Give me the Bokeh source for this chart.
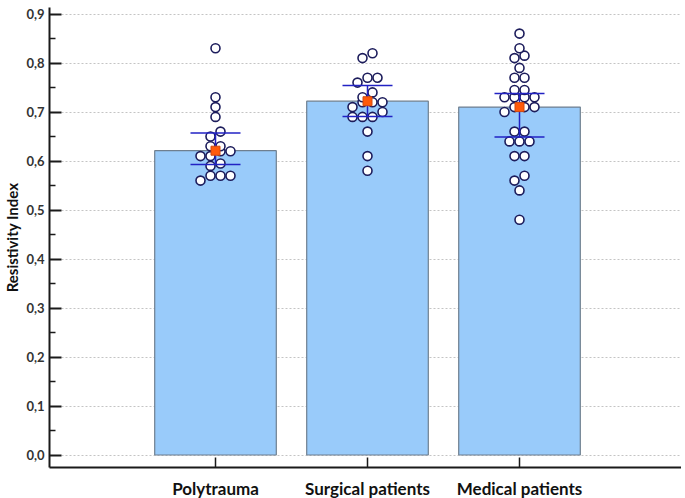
from bokeh.plotting import figure
from bokeh.models import Range1d, FixedTicker, CustomJSTickFormatter, ColumnDataSource
from bokeh.embed import file_html
from bokeh.resources import INLINE

# ---- data ----
groups = ["Polytrauma", "Surgical patients", "Medical patients"]
bar_values = [0.621, 0.722, 0.710]
ci_low = [0.593, 0.691, 0.649]
ci_high = [0.657, 0.754, 0.738]
poly_vals = [0.83, 0.73, 0.71, 0.69, 0.66, 0.65, 0.63, 0.63, 0.62, 0.62, 0.61, 0.61,
             0.595, 0.59, 0.57, 0.57, 0.57, 0.56]
surg_vals = [0.82, 0.81, 0.77, 0.77, 0.76, 0.74, 0.73, 0.72, 0.72, 0.72, 0.71,
             0.70, 0.69, 0.69, 0.69, 0.66, 0.61, 0.58]
med_vals = [0.86, 0.83, 0.815, 0.81, 0.79, 0.77, 0.77, 0.745, 0.745, 0.73, 0.73,
            0.73, 0.73, 0.71, 0.71, 0.71, 0.70, 0.66, 0.66, 0.64, 0.64, 0.64,
            0.61, 0.61, 0.57, 0.56, 0.54, 0.48]
y_ticks = [0.0, 0.1, 0.2, 0.3, 0.4, 0.5, 0.6, 0.7, 0.8, 0.9]
y_minor = [0.05, 0.15, 0.25, 0.35, 0.45, 0.55, 0.65, 0.75, 0.85]

# ---- layout ----
FW, FH = 632, 460
PX_X = 152.0   # px per category unit
PX_Y = 490.0   # px per y unit
x0 = -166.0 / PX_X
x1 = x0 + FW / PX_X
y0 = -12.5 / PX_Y
y1 = y0 + FH / PX_Y

p = figure(frame_width=FW, frame_height=FH, output_backend="svg", toolbar_location=None,
           x_range=Range1d(x0, x1), y_range=Range1d(y0, y1),
           min_border_left=0, min_border_right=0, min_border_top=7, min_border_bottom=0)
p.outline_line_color = None
p.background_fill_color = "white"
p.xgrid.grid_line_color = None
p.ygrid.grid_line_color = "#c4c4c4"
p.ygrid.grid_line_dash = "2 2"
p.ygrid.grid_line_width = 1

xs = list(range(len(groups)))
src = ColumnDataSource(dict(x=xs, top=bar_values, lo=ci_low, hi=ci_high))
p.vbar(x="x", top="top", bottom=0, width=0.8, source=src,
       fill_color="#99CBFA", line_color="#6f7f8f", line_width=1.2)


def swarm(vals, center, d=10.0, tol=0.012):
    """Group close values into rows, spread each row symmetrically."""
    srt = sorted(vals)
    rows, cur = [], [srt[0]]
    for v in srt[1:]:
        if v - cur[0] <= tol:
            cur.append(v)
        else:
            rows.append(cur)
            cur = [v]
    rows.append(cur)
    ox, oy = [], []
    for row in rows:
        n = len(row)
        for i, v in enumerate(row):
            ox.append(center + (i - (n - 1) / 2) * d / PX_X)
            oy.append(v)
    return ox, oy


dx, dy = [], []
for i, vals in enumerate([poly_vals, surg_vals, med_vals]):
    a, b = swarm(vals, xs[i])
    dx += a
    dy += b

p.scatter(dx, dy, size=9, marker="circle", fill_color="white",
          line_color="#1d1d5c", line_width=1.6)

cap = 50.0 / PX_X / 2
ecol = "#2222c4"
p.segment(x0="x", y0="lo", x1="x", y1="hi", source=src, line_color=ecol, line_width=1.5)
p.segment(x0=[x - cap for x in xs], y0=ci_low, x1=[x + cap for x in xs], y1=ci_low,
          line_color=ecol, line_width=1.5)
p.segment(x0=[x - cap for x in xs], y0=ci_high, x1=[x + cap for x in xs], y1=ci_high,
          line_color=ecol, line_width=1.5)
p.scatter(x="x", y="top", source=src, marker="square", size=9,
          fill_color="#ff5a0a", line_color="#d04a10", line_width=1)

# axes
yax = p.yaxis[0]
yax.ticker = FixedTicker(ticks=y_ticks, minor_ticks=y_minor)
yax.formatter = CustomJSTickFormatter(code="return tick.toFixed(1).replace('.', ',');")
yax.axis_line_width = 2
yax.axis_line_color = "#1a1a1a"
yax.major_tick_in = 12
yax.major_tick_out = 0
yax.minor_tick_in = 6
yax.minor_tick_out = 0
yax.major_tick_line_width = 2
yax.minor_tick_line_width = 1.5
yax.major_tick_line_color = "#1a1a1a"
yax.minor_tick_line_color = "#1a1a1a"
yax.major_label_standoff = 5
yax.major_label_text_font = "Lato"
yax.major_label_text_font_style = "bold"
yax.major_label_text_font_size = "13px"
yax.major_label_text_color = "#333333"
yax.axis_label = "Resistivity Index"
yax.axis_label_text_font = "Lato"
yax.axis_label_text_font_style = "bold"
yax.axis_label_text_font_size = "15px"
yax.axis_label_text_color = "#111111"
yax.axis_label_standoff = 2

xax = p.xaxis[0]
xax.ticker = FixedTicker(ticks=xs, minor_ticks=[])
xax.major_label_overrides = {i: g for i, g in zip(xs, groups)}
xax.axis_line_width = 2
xax.axis_line_color = "#1a1a1a"
xax.major_tick_in = 10
xax.major_tick_out = 0
xax.major_tick_line_width = 1.5
xax.major_tick_line_color = "#1a1a1a"
xax.minor_tick_line_color = None
xax.major_label_standoff = 10
xax.major_label_text_font = "Lato"
xax.major_label_text_font_style = "bold"
xax.major_label_text_font_size = "17px"
xax.major_label_text_color = "#111111"

open("out.html", "w").write(file_html(p, INLINE))
